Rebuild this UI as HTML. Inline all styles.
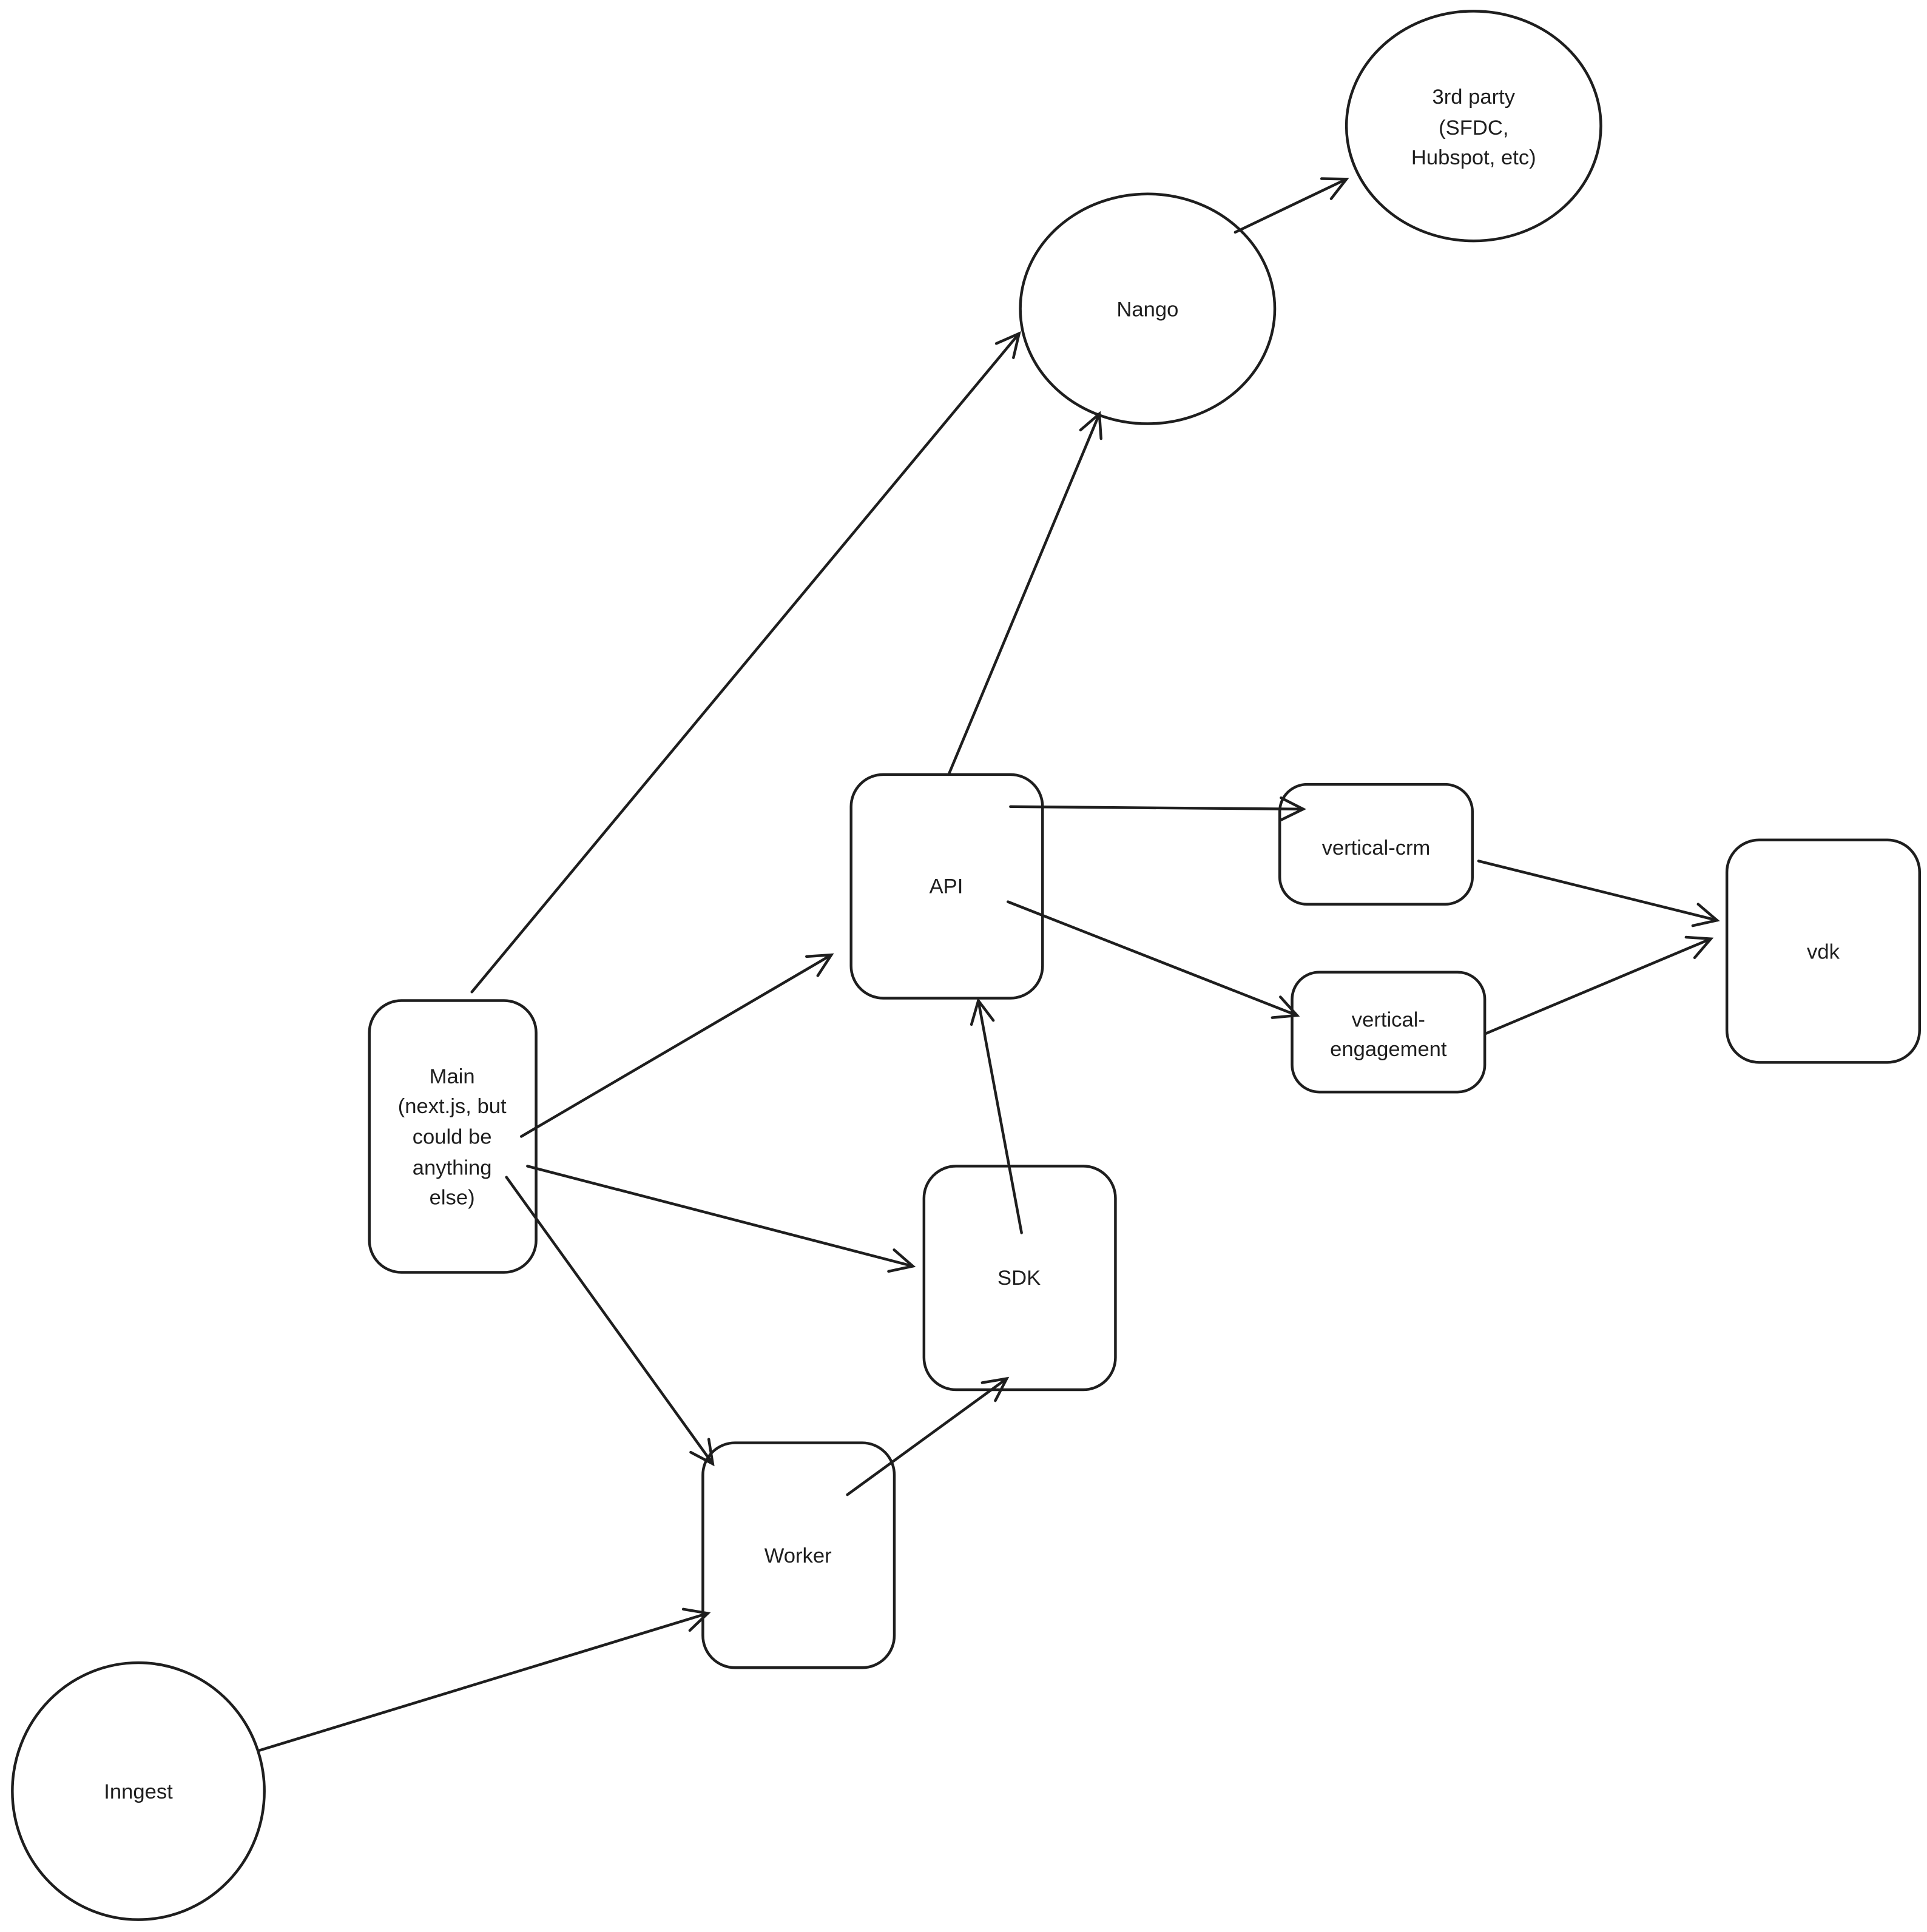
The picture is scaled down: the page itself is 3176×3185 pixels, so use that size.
<!DOCTYPE html>
<html><head><meta charset="utf-8"><style>
html,body{margin:0;padding:0;background:#fff;}
svg{display:block;}
text{font-family:"Liberation Sans",sans-serif;font-size:17px;fill:#1e1e1e;text-anchor:middle;}
</style></head><body>
<svg width="3176" height="3185" viewBox="0 0 1560 1564" preserveAspectRatio="none" xmlns="http://www.w3.org/2000/svg">
<defs>
<marker id="a" markerWidth="24" markerHeight="24" refX="20" refY="12" orient="auto" markerUnits="userSpaceOnUse">
<path d="M2,3 L20,12 L2,21" fill="none" stroke="#1e1e1e" stroke-width="2.2" stroke-linecap="round"/>
</marker>
</defs>
<g fill="none" stroke="#1e1e1e" stroke-width="2.2">
<ellipse cx="1193" cy="102" rx="103" ry="93"/>
<ellipse cx="929" cy="250" rx="103" ry="93"/>
<ellipse cx="112" cy="1450" rx="102" ry="104"/>
<rect x="689" y="627" width="155" height="181" rx="26"/>
<rect x="1036" y="635" width="156" height="97" rx="22"/>
<rect x="1046" y="787" width="156" height="97" rx="22"/>
<rect x="1398" y="680" width="156" height="180" rx="26"/>
<rect x="299" y="810" width="135" height="220" rx="26"/>
<rect x="748" y="944" width="155" height="181" rx="26"/>
<rect x="569" y="1168" width="155" height="182" rx="26"/>
</g>
<g stroke="#1e1e1e" stroke-width="2.2" fill="none" marker-end="url(#a)" stroke-linecap="round">
<line x1="382" y1="803" x2="825" y2="270"/>
<line x1="768" y1="627" x2="890" y2="335"/>
<line x1="1000" y1="188" x2="1090" y2="145"/>
<line x1="818" y1="653" x2="1055" y2="655"/>
<line x1="816" y1="730" x2="1050" y2="822"/>
<line x1="1197" y1="697" x2="1390" y2="745"/>
<line x1="1202" y1="837" x2="1385" y2="760"/>
<line x1="422" y1="920" x2="673" y2="773"/>
<line x1="427" y1="944" x2="739" y2="1025"/>
<line x1="410" y1="953" x2="577" y2="1185"/>
<line x1="827" y1="998" x2="792" y2="810"/>
<line x1="686" y1="1210" x2="815" y2="1116"/>
<line x1="210" y1="1417" x2="573" y2="1306"/>
</g>
<text x="1193" y="84">3rd party</text>
<text x="1193" y="109">(SFDC,</text>
<text x="1193" y="133">Hubspot, etc)</text>
<text x="929" y="256">Nango</text>
<text x="766" y="723">API</text>
<text x="1114" y="692">vertical-crm</text>
<text x="1124" y="831">vertical-</text>
<text x="1124" y="855">engagement</text>
<text x="1476" y="776">vdk</text>
<text x="366" y="877">Main</text>
<text x="366" y="901">(next.js, but</text>
<text x="366" y="926">could be</text>
<text x="366" y="951">anything</text>
<text x="366" y="975">else)</text>
<text x="825" y="1040">SDK</text>
<text x="646" y="1265">Worker</text>
<text x="112" y="1456">Inngest</text>
</svg>
</body></html>
